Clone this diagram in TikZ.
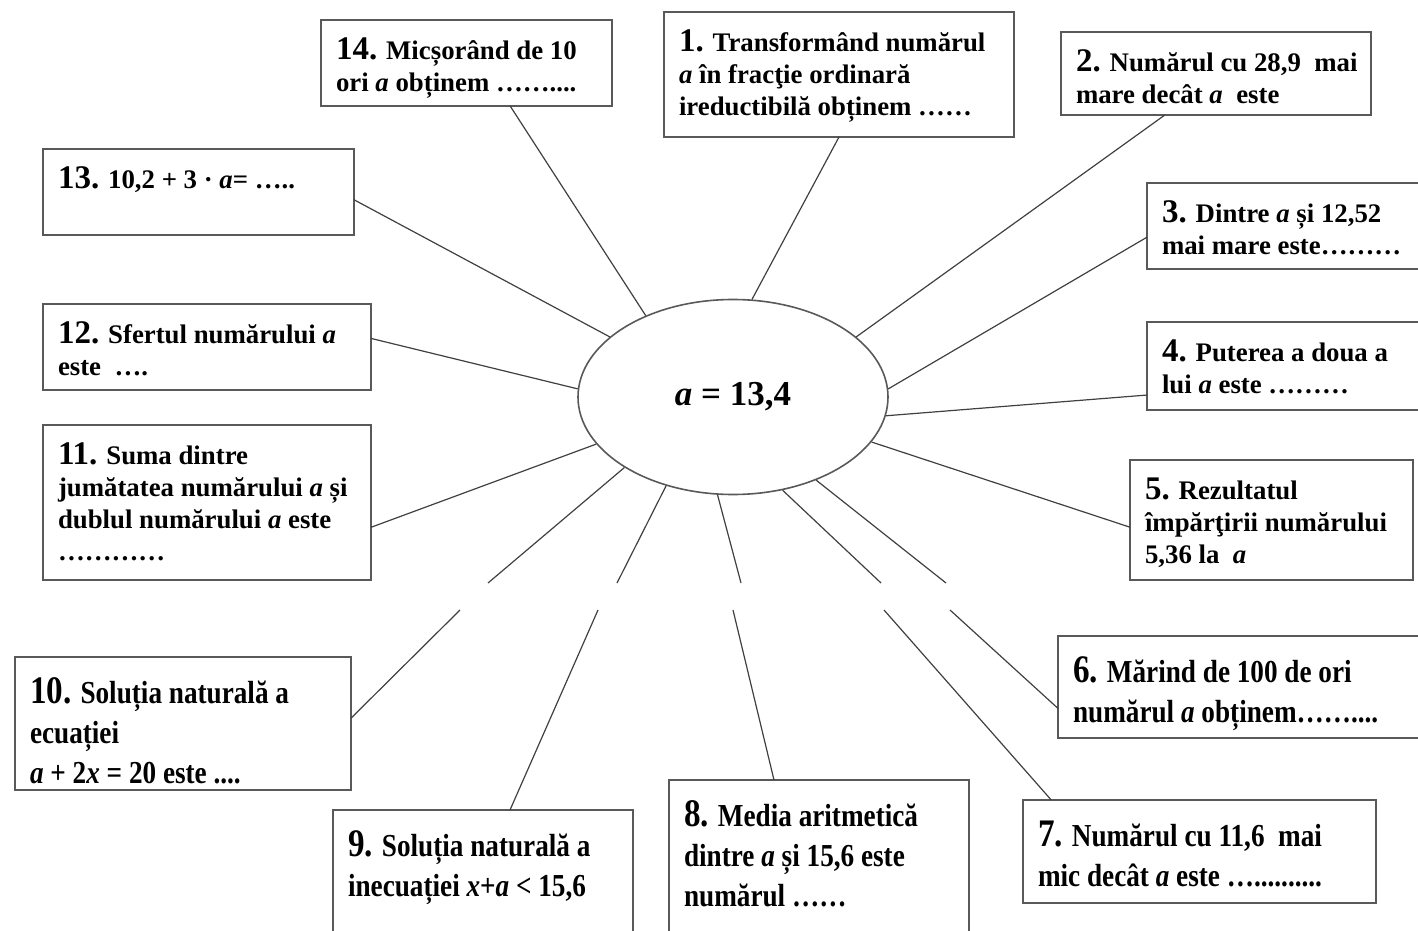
\documentclass[tikz,border=0pt]{standalone}
\usepackage{fontspec}
\setmainfont{Liberation Serif}
\newfontfamily\condfont{Liberation Serif}[FakeStretch=0.85]
\usetikzlibrary{
    shapes.geometric,
    calc
}

\newdimen\qpx \qpx=0.5pt
% text block that fills a box of W x H px, written from the top left
\newcommand{\qup}[3]{\parbox[c][#2\qpx][t]{#1\qpx}{\fontsize{13.4}{16}\selectfont\bfseries
    \leftskip=15\qpx \rightskip=0pt plus 1fil \parindent=0pt \vspace*{18\qpx}#3}}
\newcommand{\qlow}[3]{\parbox[c][#2\qpx][t]{#1\qpx}{\condfont\fontsize{16}{20}\selectfont\bfseries
    \leftskip=15\qpx \rightskip=0pt plus 1fil \parindent=0pt \vspace*{21\qpx}#3}}
\newcommand{\qn}[1]{{\fontsize{16.5}{16}\selectfont #1}}
\newcommand{\qnl}[1]{{\fontsize{19.5}{20}\selectfont #1}}

\begin{document}
\begin{tikzpicture}[x=0.5pt, y=-0.5pt,
    qbox/.style={draw=black!65, line width=1pt, inner sep=0pt, outer sep=0pt, anchor=north west},
    link/.style={draw=black!75, line width=0.6pt}]
    \useasboundingbox (0,0) rectangle (1418,931);
    \clip (0,0) rectangle (1418,931);
    \node[draw=black!65, line width=0.8pt, ellipse, minimum width=155pt, minimum height=97.5pt, inner sep=0pt] (c) at (733,397) {\fontsize{17.5}{20}\selectfont\bfseries\textit{a} = 13,4};
    \node[qbox] (b14) at (321,20) {\qup{291}{86}{\qn{14.} Micșorând de 10\\ ori \textit{a} obținem ……....}};
    \node[qbox] (b1) at (664,12) {\qup{350}{125}{\qn{1.} Transformând numărul\\ \textit{a} în fracţie ordinară\\ ireductibilă obținem ……}};
    \node[qbox] (b2) at (1061,32) {\qup{310}{83}{\qn{2.} Numărul cu 28,9\ \ mai\\ mare decât \textit{a}\ \ este}};
    \node[qbox] (b3) at (1147,183) {\qup{293}{86}{\qn{3.} Dintre \textit{a} și 12,52\\ mai mare este………}};
    \node[qbox] (b4) at (1147,322) {\qup{293}{88}{\qn{4.} Puterea a doua a\\ lui \textit{a} este ………}};
    \node[qbox] (b5) at (1130,460) {\qup{283}{120}{\qn{5.} Rezultatul\\ împărţirii numărului\\ 5,36 la\ \ \textit{a}}};
    \node[qbox] (b6) at (1058,636) {\qlow{382}{102}{\qnl{6.} Mărind de 100 de ori\\ numărul \textit{a} obținem……....}};
    \node[qbox] (b7) at (1023,800) {\qlow{353}{103}{\qnl{7.} Numărul cu 11,6\ \ mai\\ mic decât \textit{a} este …..........}};
    \node[qbox] (b8) at (669,780) {\qlow{300}{170}{\qnl{8.} Media aritmetică\\ dintre \textit{a} și 15,6 este\\ numărul ……}};
    \node[qbox] (b9) at (333,810) {\qlow{300}{140}{\qnl{9.} Soluția naturală a\\ inecuației \textit{x}+\textit{a} < 15,6}};
    \node[qbox] (b10) at (15,657) {\qlow{336}{133}{\qnl{10.} Soluția naturală a\\ ecuației\\ \textit{a} + 2\textit{x} = 20 este ....}};
    \node[qbox] (b11) at (43,425) {\qup{328}{155}{\qn{11.} Suma dintre\\ jumătatea numărului \textit{a} și\\ dublul numărului \textit{a} este\\ …………}};
    \node[qbox] (b12) at (43,304) {\qup{328}{86}{\qn{12.} Sfertul numărului \textit{a}\\ este\ \ ….}};
    \node[qbox] (b13) at (43,149) {\qup{311}{86}{\qn{13.} 10,2 + 3 · \textit{a}= …..}};
    % where the lower rays break off
    \coordinate (g10a) at (488,583); \coordinate (g10b) at (460,610);
    \coordinate (g9a) at (617,583);  \coordinate (g9b) at (598,610);
    \coordinate (g8a) at (741,583);  \coordinate (g8b) at (733,610);
    \coordinate (g7a) at (881,583);  \coordinate (g7b) at (884,610);
    \coordinate (g6a) at (946,583);  \coordinate (g6b) at (950,610);
    % rays from the centre
    \draw[link] (c.137) -- ($(b14.south west)!0.65!(b14.south east)$);
    \draw[link] (c.79) -- (b1.south);
    \draw[link] (c.26) -- ($(b2.south west)!0.335!(b2.south east)$);
    \draw[link] (c.3) -- ($(b3.north west)!0.63!(b3.south west)$);
    \draw[link] (c.353) -- ($(b4.north west)!0.83!(b4.south west)$);
    \draw[link] (c.342) -- ($(b5.north west)!0.56!(b5.south west)$);
    \draw[link] (c.315) -- (g6a) (g6b) -- ($(b6.north west)!0.71!(b6.south west)$);
    \draw[link] (c.298) -- (g7a) (g7b) -- ($(b7.north west)!0.08!(b7.north east)$);
    \draw[link] (c.261) -- (g8a) (g8b) -- ($(b8.north west)!0.35!(b8.north east)$);
    \draw[link] (c.233) -- (g9a) (g9b) -- ($(b9.north west)!0.59!(b9.north east)$);
    \draw[link] (c.213) -- (g10a) (g10b) -- ($(b10.north east)!0.46!(b10.south east)$);
    \draw[link] (c.199) -- ($(b11.north east)!0.66!(b11.south east)$);
    \draw[link] (c.177) -- ($(b12.north east)!0.40!(b12.south east)$);
    \draw[link] (c.154) -- ($(b13.north east)!0.59!(b13.south east)$);
\end{tikzpicture}
\end{document}
